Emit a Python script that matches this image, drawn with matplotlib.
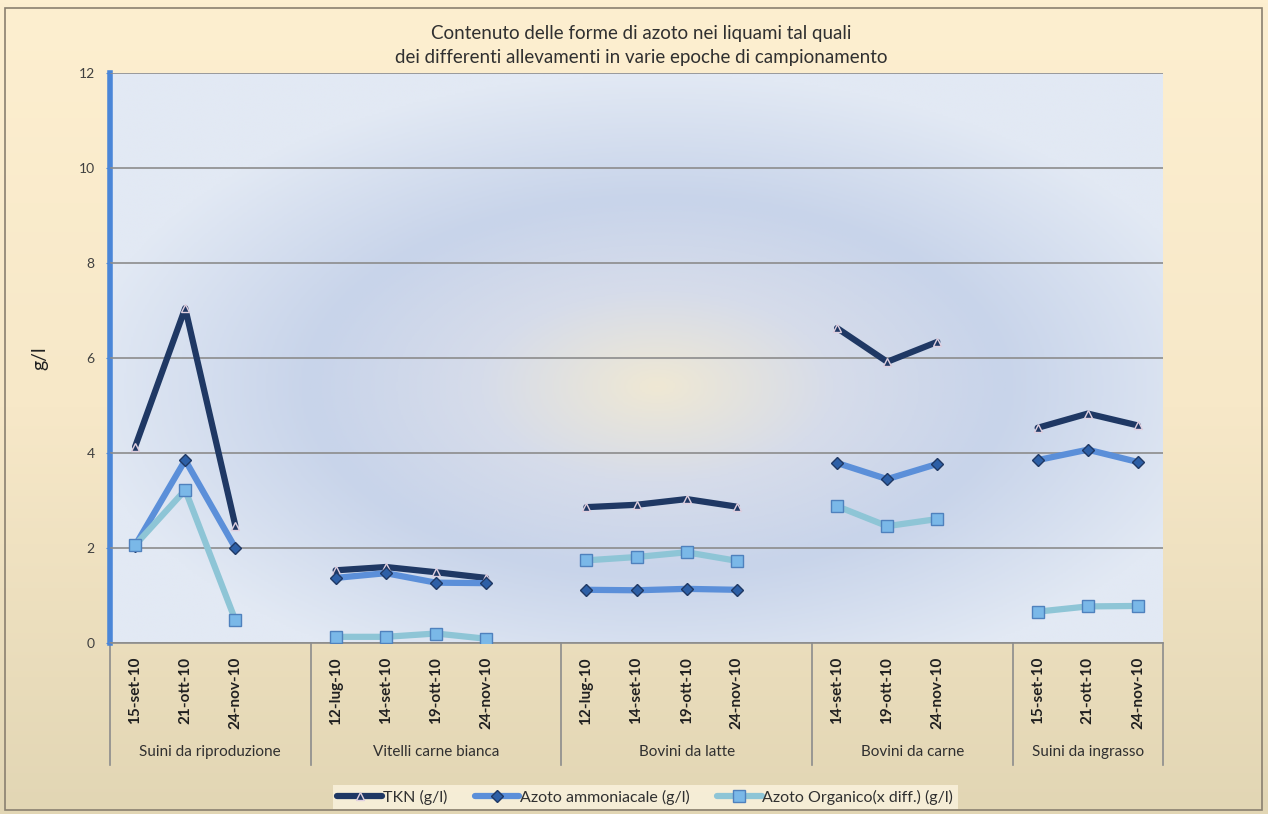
import numpy as np
import matplotlib.pyplot as plt
from matplotlib.colors import LinearSegmentedColormap
from matplotlib.patches import Rectangle
import matplotlib.transforms as mtransforms

plt.rcParams['font.family'] = ['Lato', 'DejaVu Sans']

# dati
gruppi = ['Suini da riproduzione', 'Vitelli carne bianca', 'Bovini da latte',
          'Bovini da carne', 'Suini da ingrasso']
date = [
    ['15-set-10', '21-ott-10', '24-nov-10'],
    ['12-lug-10', '14-set-10', '19-ott-10', '24-nov-10'],
    ['12-lug-10', '14-set-10', '19-ott-10', '24-nov-10'],
    ['14-set-10', '19-ott-10', '24-nov-10'],
    ['15-set-10', '21-ott-10', '24-nov-10'],
]
tkn = [
    [4.13, 7.05, 2.47],
    [1.53, 1.60, 1.49, 1.37],
    [2.86, 2.91, 3.03, 2.87],
    [6.63, 5.92, 6.34],
    [4.53, 4.83, 4.58],
]
ammoniacale = [
    [2.05, 3.85, 2.00],
    [1.37, 1.47, 1.27, 1.26],
    [1.12, 1.11, 1.14, 1.12],
    [3.79, 3.45, 3.77],
    [3.85, 4.07, 3.81],
]
organico = [
    [2.06, 3.22, 0.48],
    [0.13, 0.13, 0.20, 0.09],
    [1.74, 1.81, 1.91, 1.73],
    [2.88, 2.46, 2.61],
    [0.66, 0.77, 0.78],
]

# posizioni: una categoria vuota dopo ogni gruppo (tranne l'ultimo)
pos = []
start = 0
bordi = [-0.5]
for i, d in enumerate(date):
    pos.append(np.arange(start, start + len(d)))
    start += len(d) + (1 if i < len(date) - 1 else 0)
    bordi.append(start - 0.5)
n_cat = start

W, H = 1268, 814
fig = plt.figure(figsize=(W / 100, H / 100), dpi=100)

# sfondo figura (gradiente crema -> beige)
bg = fig.add_axes([0, 0, 1, 1], zorder=-10)
bg_cmap = LinearSegmentedColormap.from_list('bg', ['#fdefd0', '#f7e8c8', '#e2d6b4'])
bg.imshow(np.linspace(0, 1, 256).reshape(-1, 1), aspect='auto', cmap=bg_cmap,
          extent=[0, 1, 0, 1], origin='upper')
bg.set_xlim(0, 1)
bg.set_ylim(0, 1)
bg.add_patch(Rectangle((5 / W, 4 / H), 1257 / W, 802 / H, fill=False,
                       edgecolor='#8a8070', lw=1.2))
bg.axis('off')

ax = fig.add_axes([110 / W, (H - 643) / H, (1163 - 110) / W, (643 - 73) / H])

# sfondo area del grafico (gradiente radiale)
yy, xx = np.mgrid[0:1:300j, 0:1:600j]
r = np.sqrt(((xx - 0.52) / 0.55) ** 2 + ((yy - 0.45) / 0.55) ** 2)
r = np.clip(r, 0, 1)
pa_cmap = LinearSegmentedColormap.from_list(
    'pa', [(0, '#efe8d4'), (0.3, '#d6dcea'), (0.6, '#c8d4ea'), (1, '#e2e9f4')])
ax.imshow(r, cmap=pa_cmap, aspect='auto', extent=[-0.5, n_cat - 0.5, 0, 12],
          origin='lower', zorder=0)

ax.set_xlim(-0.5, n_cat - 0.5)
ax.set_ylim(0, 12)
ax.set_yticks(np.arange(0, 13, 2))
ax.yaxis.grid(True, color='#8c8c8c', lw=1.2, zorder=1)
ax.set_axisbelow(False)
ax.tick_params(axis='y', length=3, color='#4a86d8', labelsize=10,
               labelcolor='#404040', pad=8)

for s in ['top', 'right']:
    ax.spines[s].set_visible(False)
ax.spines['left'].set_color('#4a86d8')
ax.spines['left'].set_linewidth(4)
ax.spines['bottom'].set_color('#8c8c8c')
ax.spines['bottom'].set_linewidth(1.2)

ax.set_ylabel('g/l', fontsize=14, color='#202020', labelpad=22)

stili = [
    ('TKN (g/l)', tkn, '#1f3864', '^', '#1f3864', '#e0d0e0', 6),
    ('Azoto ammoniacale (g/l)', ammoniacale, '#5b8fd9', 'D', '#2d5fa6', '#1f3864', 6),
    ('Azoto Organico(x diff.) (g/l)', organico, '#8ec5d6', 's', '#7ab8e8', '#4f81bd', 8),
]
handles = []
for nome, serie, col, mk, fc, ec, ms in stili:
    for j, (p, v) in enumerate(zip(pos, serie)):
        h, = ax.plot(p, v, color=col, lw=4.5, marker=mk, markersize=ms,
                     markerfacecolor=fc, markeredgecolor=ec, markeredgewidth=1,
                     solid_capstyle='round', zorder=3, label=nome if j == 0 else None)
        if j == 0:
            handles.append(h)

# asse delle categorie a due livelli
tutte_pos = np.concatenate(pos)
tutte_date = [d for g in date for d in g]
ax.set_xticks(tutte_pos)
ax.set_xticklabels(tutte_date, rotation=90, fontsize=11, color='#202020',
                   fontweight='bold')
ax.tick_params(axis='x', length=0, pad=10)

trans = mtransforms.blended_transform_factory(ax.transData, ax.transAxes)
for b in bordi:
    ax.plot([b, b], [0, -0.214], transform=trans, color='#8c8c8c', lw=1.2,
            clip_on=False)
for g, b0, b1 in zip(gruppi, bordi[:-1], bordi[1:]):
    ax.text((b0 + b1) / 2, -0.191, g, transform=trans, ha='center', va='center',
            fontsize=11, color='#303030')

fig.text(0.506, 1 - 33 / H, 'Contenuto delle forme di azoto nei liquami tal quali',
         ha='center', va='center', fontsize=13.5, color='#303030')
fig.text(0.506, 1 - 58 / H, 'dei differenti allevamenti in varie epoche di campionamento',
         ha='center', va='center', fontsize=13.5, color='#303030')

leg = fig.legend(handles=handles, loc='center', bbox_to_anchor=(0.509, 1 - 797 / H),
                 ncol=3, frameon=True, fontsize=11.5, handlelength=2.8,
                 handletextpad=0.05, columnspacing=1.7, borderpad=0.3,
                 fancybox=False)
leg.get_frame().set_facecolor('#fbf3df')
leg.get_frame().set_edgecolor('none')
for t in leg.get_texts():
    t.set_color('#303030')

fig.savefig('out.png', dpi=100)
